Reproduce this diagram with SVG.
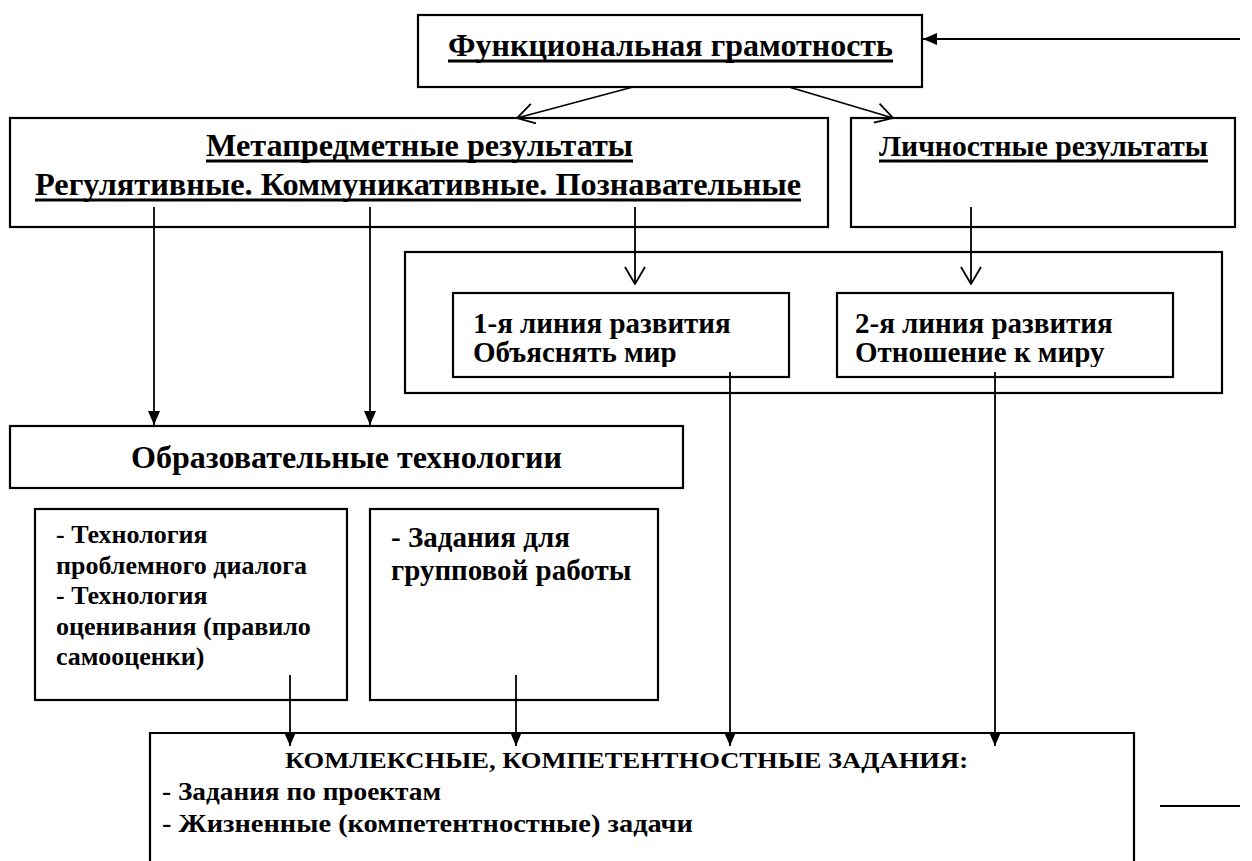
<svg xmlns="http://www.w3.org/2000/svg" width="1252" height="861" viewBox="0 0 1252 861">
<style>
.box{fill:#fff;stroke:#000;stroke-width:2.2}
.ln{fill:none;stroke:#000;stroke-width:1.8}
.ul{stroke:#000;stroke-width:3.2}
text{font-family:"Liberation Serif","Times New Roman",serif;font-weight:bold;fill:#000}
</style>
<defs>
<marker id="af" viewBox="0 0 14 12" refX="14" refY="6" markerWidth="14" markerHeight="12" markerUnits="userSpaceOnUse" orient="auto"><path d="M0,0 L14,6 L0,12 z" fill="#000"/></marker>
<marker id="ao" viewBox="0 0 19 22" refX="18" refY="11" markerWidth="19" markerHeight="22" markerUnits="userSpaceOnUse" orient="auto"><path d="M1,1 L18,11 L1,21" fill="none" stroke="#000" stroke-width="1.8"/></marker>
<clipPath id="c1"><rect x="453" y="293" width="336" height="74"/></clipPath>
<clipPath id="c2"><rect x="837" y="293" width="336" height="74"/></clipPath>
</defs>

<g id="fg">
<rect class="box" x="418" y="15" width="504" height="72"/>
<text x="448" y="56" font-size="31" textLength="445" lengthAdjust="spacingAndGlyphs">Функциональная грамотность</text>
<line class="ul" x1="448" y1="61" x2="893" y2="61"/>
</g>

<g id="meta">
<rect class="box" x="10" y="118" width="818" height="109"/>
<text x="206" y="156" font-size="31" textLength="427" lengthAdjust="spacingAndGlyphs">Метапредметные результаты</text>
<line class="ul" x1="206" y1="161" x2="633" y2="161"/>
<text x="35" y="195" font-size="31" textLength="766" lengthAdjust="spacingAndGlyphs">Регулятивные. Коммуникативные. Познавательные</text>
<line class="ul" x1="35" y1="200" x2="801" y2="200"/>
</g>

<g id="lich">
<rect class="box" x="851" y="118" width="384" height="109"/>
<text x="879" y="156" font-size="29.5" textLength="329" lengthAdjust="spacingAndGlyphs">Личностные результаты</text>
<line class="ul" x1="879" y1="161" x2="1208" y2="161"/>
</g>

<g id="lines">
<rect class="box" x="405" y="252" width="817" height="141"/>
<g id="line1">
<rect class="box" x="453" y="293" width="336" height="84"/>
<g clip-path="url(#c1)">
<text x="473" y="333" font-size="29">1-я линия развития</text>
<text x="473" y="362" font-size="29">Объяснять мир</text>
</g>
</g>
<g id="line2">
<rect class="box" x="837" y="293" width="336" height="84"/>
<g clip-path="url(#c2)">
<text x="855" y="333" font-size="29">2-я линия развития</text>
<text x="855" y="362" font-size="29">Отношение к миру</text>
</g>
</g>
</g>

<g id="obraz">
<rect class="box" x="10" y="426" width="673" height="62"/>
<text x="131" y="468" font-size="32" textLength="431" lengthAdjust="spacingAndGlyphs">Образовательные технологии</text>
</g>

<g id="tech">
<rect class="box" x="35" y="509" width="312" height="191"/>
<text x="56" y="543" font-size="26">- Технология</text>
<text x="56" y="574" font-size="26">проблемного диалога</text>
<text x="56" y="604" font-size="26">- Технология</text>
<text x="56" y="635" font-size="26">оценивания (правило</text>
<text x="56" y="665" font-size="26">самооценки)</text>
</g>

<g id="group">
<rect class="box" x="370" y="509" width="288" height="191"/>
<text x="391" y="547" font-size="29">- Задания для</text>
<text x="391" y="580" font-size="29">групповой работы</text>
</g>

<g id="tasks">
<path class="box" d="M150,862 V733 H1134 V862"/>
<text x="285" y="768" font-size="24" textLength="683" lengthAdjust="spacingAndGlyphs">КОМЛЕКСНЫЕ, КОМПЕТЕНТНОСТНЫЕ ЗАДАНИЯ:</text>
<text x="162" y="800" font-size="25" textLength="279" lengthAdjust="spacingAndGlyphs">- Задания по проектам</text>
<text x="162" y="832" font-size="25" textLength="531" lengthAdjust="spacingAndGlyphs">- Жизненные (компетентностные) задачи</text>
</g>

<g id="connectors">
<line class="ln" x1="1240" y1="39" x2="923" y2="39" marker-end="url(#af)"/>
<line class="ln" x1="633" y1="87" x2="517" y2="118" marker-end="url(#ao)"/>
<line class="ln" x1="789" y1="87" x2="893" y2="118" marker-end="url(#ao)"/>
<line class="ln" x1="154" y1="207" x2="154" y2="425" marker-end="url(#af)"/>
<line class="ln" x1="370" y1="207" x2="370" y2="425" marker-end="url(#af)"/>
<line class="ln" x1="635" y1="207" x2="635" y2="284" marker-end="url(#ao)"/>
<line class="ln" x1="971" y1="207" x2="971" y2="284" marker-end="url(#ao)"/>
<line class="ln" x1="730" y1="372" x2="730" y2="746" marker-end="url(#af)"/>
<line class="ln" x1="995" y1="372" x2="995" y2="746" marker-end="url(#af)"/>
<line class="ln" x1="290" y1="675" x2="290" y2="746" marker-end="url(#af)"/>
<line class="ln" x1="516" y1="675" x2="516" y2="746" marker-end="url(#af)"/>
<line class="ln" x1="1160" y1="806" x2="1240" y2="806"/>
</g>
</svg>
